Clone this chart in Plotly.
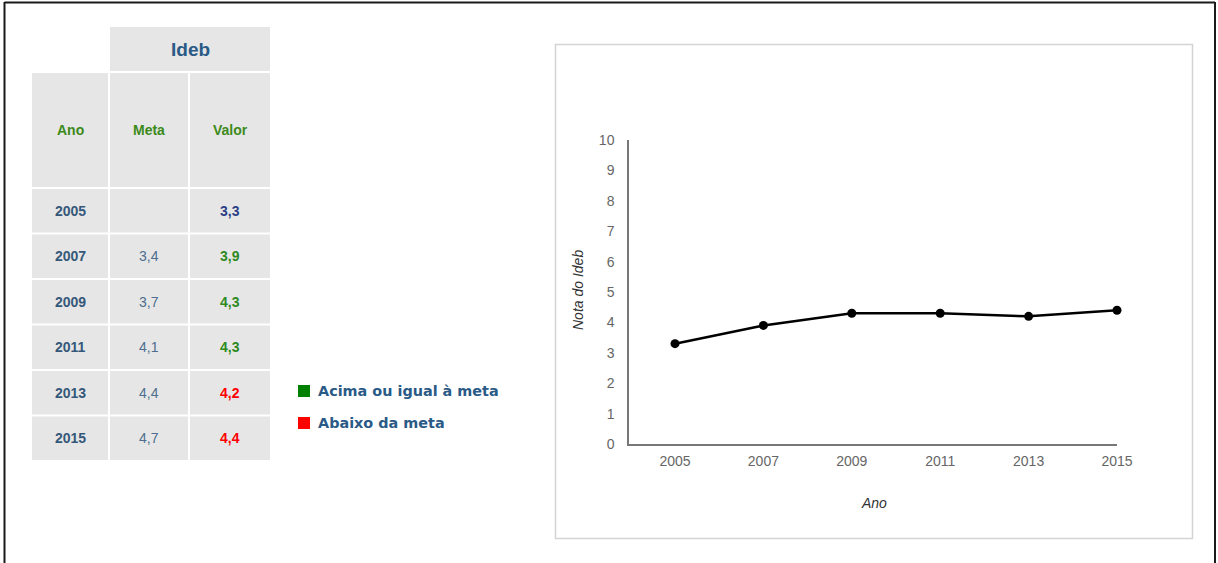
import plotly.graph_objects as go

# ---- data ----
anos = [2005, 2007, 2009, 2011, 2013, 2015]
metas = [None, 3.4, 3.7, 4.1, 4.4, 4.7]
valores = [3.3, 3.9, 4.3, 4.3, 4.2, 4.4]
col_headers = ["Ano", "Meta", "Valor"]
group_header = "Ideb"
legend_labels = ["Acima ou igual à meta", "Abaixo da meta"]
y_ticks = list(range(0, 11))

W, H = 1218, 563
FONT = "Liberation Sans, Arial, sans-serif"
LEG_FONT = "DejaVu Sans, Verdana, sans-serif"


def px(x):
    return x / W


def py(y):
    return 1 - y / H


def fmt(v):
    return "" if v is None else f"{v:.1f}".replace(".", ",")


def valor_color(meta, val):
    if meta is None:
        return "#2b3f86"
    return "#2e8a1e" if val >= meta else "#ff0000"


shapes = []
annotations = []
CELL = "#e6e6e6"


def rect(x0, y0, x1, y1, fill, line=None, lw=0):
    shapes.append(dict(type="rect", xref="paper", yref="paper",
                       x0=px(x0), x1=px(x1), y0=py(y1), y1=py(y0),
                       fillcolor=fill, line=dict(color=line or fill, width=lw),
                       layer="below"))


def text(x, y, s, color, size=14, bold=False, italic=False, xanchor="center", angle=0, family=FONT):
    if bold:
        s = f"<b>{s}</b>"
    if italic:
        s = f"<i>{s}</i>"
    annotations.append(dict(x=px(x), y=py(y), xref="paper", yref="paper", text=s,
                            showarrow=False, xanchor=xanchor, yanchor="middle",
                            textangle=angle,
                            font=dict(family=family, size=size, color=color)))


# outer border
shapes.append(dict(type="line", xref="paper", yref="paper", x0=px(4.5), x1=px(4.5), y0=0, y1=py(2),
                   line=dict(color="#1a1a1a", width=2)))
shapes.append(dict(type="line", xref="paper", yref="paper", x0=px(4.5), x1=px(1215), y0=py(2.5), y1=py(2.5),
                   line=dict(color="#1a1a1a", width=2)))
shapes.append(dict(type="line", xref="paper", yref="paper", x0=px(1215), x1=px(1215), y0=0, y1=py(2),
                   line=dict(color="#1a1a1a", width=2)))

# chart frame
shapes.append(dict(type="rect", xref="paper", yref="paper", x0=px(555.5), x1=px(1192.5),
                   y0=py(538.5), y1=py(44.5), line=dict(color="#d4d4d4", width=1.5),
                   fillcolor="rgba(0,0,0,0)", layer="below"))

# table
col_x = [(32, 108), (110, 188), (190, 270)]
rect(110, 27, 270, 71, CELL)
text(190, 49, group_header, "#2a5a86", size=19, bold=True)
for (x0, x1), h in zip(col_x, col_headers):
    rect(x0, 73, x1, 187, CELL)
    text((x0 + x1) / 2, 130, h, "#3c8a1a", size=14, bold=True)

row_top = 189
row_h = 45.5
for i, (a, m, v) in enumerate(zip(anos, metas, valores)):
    y0 = row_top + i * row_h
    y1 = y0 + row_h - 2
    yc = (y0 + y1) / 2
    for (x0, x1) in col_x:
        rect(x0, y0, x1, y1, CELL)
    text(sum(col_x[0]) / 2, yc, str(a), "#35587a", size=14, bold=True)
    text(sum(col_x[1]) / 2, yc, fmt(m), "#4d6e8e", size=14)
    text(sum(col_x[2]) / 2, yc, fmt(v), valor_color(m, v), size=14, bold=True)

# legend
for j, (lab, col) in enumerate(zip(legend_labels, ["#008000", "#ff0000"])):
    yc = 391 + j * 32
    rect(298, yc - 6, 310, yc + 6, col)
    text(316, yc, lab, "#2a5a86", size=14.4, bold=True, xanchor="left", family=LEG_FONT)

# axis titles
text(874, 503, "Ano", "#333333", size=14, italic=True)
text(578, 290, "Nota do Ideb", "#333333", size=14, italic=True, angle=-90)

fig = go.Figure()
fig.add_trace(go.Scatter(x=anos, y=valores, mode="lines+markers",
                         line=dict(color="#000000", width=2.5),
                         marker=dict(color="#000000", size=9),
                         cliponaxis=False, hoverinfo="x+y", showlegend=False))

x_lo = 2005 - (675 - 629) / 44.2
fig.update_layout(
    template="none",
    width=W, height=H,
    margin=dict(l=0, r=0, t=0, b=0, pad=0, autoexpand=False),
    paper_bgcolor="white", plot_bgcolor="white",
    shapes=shapes, annotations=annotations,
    showlegend=False,
    xaxis=dict(domain=[px(629), px(1117)], range=[x_lo, 2015], automargin=False,
               tickvals=anos, ticktext=[str(a) for a in anos],
               showgrid=False, zeroline=False, showline=True,
               linecolor="#777777", linewidth=1.5, ticks="",
               ticklabelstandoff=3,
               tickfont=dict(family=FONT, size=14, color="#666666")),
    yaxis=dict(domain=[py(444), py(140)], range=[0, 10], automargin=False,
               tickvals=y_ticks, showgrid=False, zeroline=False, showline=True,
               linecolor="#777777", linewidth=1.5, ticks="",
               ticklabelstandoff=10,
               tickfont=dict(family=FONT, size=14, color="#666666")),
)

post = (
    "var d=document.getElementById('{plot_id}');"
    "document.documentElement.style.margin='0';document.documentElement.style.padding='0';"
    "document.documentElement.style.overflow='hidden';"
    "document.body.style.margin='0';document.body.style.padding='0';document.body.style.overflow='hidden';"
    "d.style.position='fixed';d.style.top='0';d.style.left='0';"
)
fig.write_html("out.html", config={"displayModeBar": False}, post_script=post)
